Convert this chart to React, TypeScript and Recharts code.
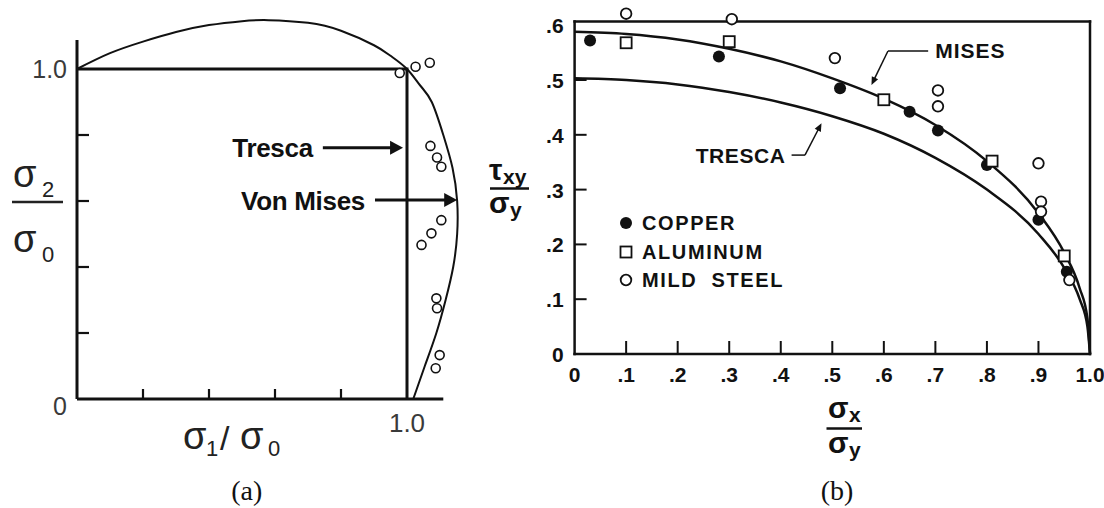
import React from 'react';
import { ComposedChart, Line, Scatter, XAxis, YAxis, ReferenceLine, Legend } from 'recharts';

const INK = '#111';
const SANS = '"Liberation Sans", Arial, Helvetica, sans-serif';
const SERIF = '"Liberation Serif", "Times New Roman", serif';

// ---------- (a) principal stress plane: σ1/σ0 vs σ2/σ0 ----------
const misesEllipseS1 = [0, 0.1, 0.2, 0.3, 0.4, 0.5, 0.58, 0.7, 0.8, 0.9, 0.95, 1.0, 1.04, 1.075, 1.11, 1.138, 1.152, 1.152, 1.14, 1.117, 1.089, 1.054, 1.019];
const misesEllipseS2 = [1.0, 1.048, 1.083, 1.112, 1.133, 1.145, 1.148, 1.14, 1.116, 1.072, 1.04, 1.0, 0.95, 0.9, 0.8, 0.7, 0.6, 0.5, 0.4, 0.3, 0.2, 0.1, 0];
const trescaHexS1 = [0, 1, 1];
const trescaHexS2 = [1, 1, 0];
const biaxialTestS1 = [0.978, 1.026, 1.069, 1.071, 1.091, 1.104, 1.104, 1.074, 1.044, 1.089, 1.091, 1.099, 1.087];
const biaxialTestS2 = [0.988, 1.007, 1.019, 0.767, 0.732, 0.704, 0.542, 0.502, 0.467, 0.305, 0.275, 0.133, 0.093];
const planeTicksX = [0.2, 0.4, 0.6, 0.8, 1.0];
const planeTicksY = [0, 0.2, 0.4, 0.6, 0.8, 1.0];

// ---------- (b) combined tension–torsion: σx/σy vs τxy/σy ----------
const curveSx = [0, 0.1, 0.2, 0.3, 0.4, 0.5, 0.6, 0.7, 0.8, 0.9, 0.95, 0.98, 0.995, 1.0];
const misesTau = [0.588, 0.584, 0.574, 0.557, 0.534, 0.503, 0.466, 0.418, 0.352, 0.257, 0.185, 0.12, 0.065, 0];
const trescaTau = [0.503, 0.5, 0.492, 0.478, 0.459, 0.434, 0.402, 0.358, 0.3, 0.219, 0.157, 0.1, 0.05, 0];
const copperSx = [0.03, 0.28, 0.515, 0.65, 0.705, 0.8, 0.9, 0.955];
const copperTau = [0.572, 0.543, 0.485, 0.442, 0.408, 0.345, 0.245, 0.15];
const aluminumSx = [0.1, 0.3, 0.6, 0.81, 0.95];
const aluminumTau = [0.568, 0.57, 0.464, 0.352, 0.179];
const steelSx = [0.1, 0.305, 0.505, 0.705, 0.705, 0.9, 0.905, 0.905, 0.96];
const steelTau = [0.621, 0.611, 0.54, 0.481, 0.452, 0.348, 0.278, 0.26, 0.135];
const shearTicksX = [0, 0.1, 0.2, 0.3, 0.4, 0.5, 0.6, 0.7, 0.8, 0.9, 1.0];
const shearTicksY = [0, 0.1, 0.2, 0.3, 0.4, 0.5, 0.6];
const materials = ['COPPER', 'ALUMINUM', 'MILD STEEL'];

const pairs = (xs: number[], ys: number[]) => xs.map((x, i) => ({ x, y: ys[i] }));

const ellipseData = pairs(misesEllipseS1, misesEllipseS2);
const hexData = pairs(trescaHexS1, trescaHexS2);
const biaxialData = pairs(biaxialTestS1, biaxialTestS2);
const misesData = pairs(curveSx, misesTau);
const trescaData = pairs(curveSx, trescaTau);
const copperData = pairs(copperSx, copperTau);
const aluminumData = pairs(aluminumSx, aluminumTau);
const steelData = pairs(steelSx, steelTau);

// ---------- shared drawing helpers ----------
function Marker({ kind, cx, cy }: { kind: string; cx: number; cy: number }) {
  if (kind === 'COPPER') return <circle cx={cx} cy={cy} r={6} fill={INK} />;
  if (kind === 'ALUMINUM')
    return <rect x={cx - 5.5} y={cy - 5.5} width={11} height={11} fill="#fff" stroke={INK} strokeWidth={1.8} />;
  return <circle cx={cx} cy={cy} r={5.3} fill="#fff" stroke={INK} strokeWidth={1.8} />;
}

type ArrowSpec = {
  width: number;
  head?: number;
  half?: number;
  text?: string;
  anchor?: 'start' | 'end';
  gap?: number;
  dy?: number;
  fontSize?: number;
  spacing?: number;
};

const arrowShape = (s: ArrowSpec) => (p: any) => {
  const { x1, y1, x2, y2 } = p;
  const head = s.head ?? 0;
  const half = s.half ?? 0;
  const ang = Math.atan2(y2 - y1, x2 - x1);
  const c = Math.cos(ang);
  const sn = Math.sin(ang);
  const bx = x2 - head * c;
  const by = y2 - head * sn;
  const gap = s.gap ?? 0;
  return (
    <g>
      <line
        x1={x1}
        y1={y1}
        x2={head ? bx + c : x2}
        y2={head ? by + sn : y2}
        stroke={INK}
        strokeWidth={s.width}
      />
      {head > 0 && (
        <polygon
          points={`${x2},${y2} ${bx - half * sn},${by + half * c} ${bx + half * sn},${by - half * c}`}
          fill={INK}
        />
      )}
      {s.text && (
        <text
          x={s.anchor === 'start' ? x1 + gap : x1 - gap}
          y={y1 + (s.dy ?? 0)}
          textAnchor={s.anchor ?? 'end'}
          fontFamily={SANS}
          fontWeight={700}
          fontSize={s.fontSize ?? 20}
          letterSpacing={s.spacing ?? 0}
          fill={INK}
          style={{ whiteSpace: 'pre' }}
        >
          {s.text}
        </text>
      )}
    </g>
  );
};

// ---------- (a) axis ticks ----------
const PlaneTickX = (props: any) => {
  const { x, y, payload } = props;
  const v = payload.value;
  if (v >= 0.999)
    return (
      <text x={x} y={y + 33} textAnchor="middle" fontFamily={SANS} fontSize={26} fill="#3a3a3a">
        1.0
      </text>
    );
  return <line x1={x} y1={y} x2={x} y2={y - 10} stroke={INK} strokeWidth={2.2} />;
};

const PlaneTickY = (props: any) => {
  const { x, y, payload } = props;
  const v = payload.value;
  if (v >= 0.999)
    return (
      <text x={x - 10} y={y + 9} textAnchor="end" fontFamily={SANS} fontSize={25} fill="#3a3a3a">
        1.0
      </text>
    );
  if (v === 0)
    return (
      <text x={x - 17} y={y + 16} textAnchor="middle" fontFamily={SANS} fontSize={25} fill="#3a3a3a">
        0
      </text>
    );
  return <line x1={x} y1={y} x2={x + 12} y2={y} stroke={INK} strokeWidth={2.2} />;
};

// ---------- (b) axis ticks ----------
const fmtShear = (v: number) => (v === 0 ? '0' : v >= 0.999 ? '1.0' : '.' + Math.round(v * 10));

const ShearTickX = (props: any) => {
  const { x, y, payload } = props;
  const v = payload.value;
  return (
    <g>
      {v > 0 && v < 0.999 && <line x1={x} y1={y} x2={x} y2={y - 13} stroke={INK} strokeWidth={2} />}
      <text x={x} y={y + 28} textAnchor="middle" fontFamily={SANS} fontWeight={700} fontSize={21} fill={INK}>
        {fmtShear(v)}
      </text>
    </g>
  );
};

const ShearTickY = (props: any) => {
  const { x, y, payload } = props;
  const v = payload.value;
  return (
    <g>
      {v > 0 && v < 0.59 && <line x1={x} y1={y} x2={x + 12} y2={y} stroke={INK} strokeWidth={2} />}
      <text x={x - 11} y={y + 8} textAnchor="end" fontFamily={SANS} fontWeight={700} fontSize={21} fill={INK}>
        {fmtShear(v)}
      </text>
    </g>
  );
};

const MaterialLegend = (props: any) => {
  const payload: any[] = (props.payload || []).filter((e: any) => materials.includes(e.value));
  payload.sort((a, b) => materials.indexOf(a.value) - materials.indexOf(b.value));
  return (
    <div style={{ fontFamily: SANS, fontWeight: 700, fontSize: 20, letterSpacing: 1.6, color: INK }}>
      {payload.map((entry) => (
        <div key={entry.value} style={{ display: 'flex', alignItems: 'center', height: 28.4 }}>
          <svg width={16} height={16} style={{ display: 'block' }}>
            <Marker kind={entry.value} cx={8} cy={8} />
          </svg>
          <span style={{ marginLeft: 8, whiteSpace: 'pre', lineHeight: '28px' }}>
            {entry.value === 'MILD STEEL' ? 'MILD  STEEL' : entry.value}
          </span>
        </div>
      ))}
    </div>
  );
};

function PlanePanel() {
  return (
    <ComposedChart width={480} height={470} margin={{ top: 3, right: 7, bottom: 70, left: 76 }}>
      <XAxis
        type="number"
        dataKey="x"
        domain={[0, 1.2]}
        ticks={planeTicksX}
        interval={0}
        height={1}
        axisLine={false}
        tickLine={false}
        tickSize={0}
        tickMargin={0}
        tick={(p: any) => <PlaneTickX {...p} />}
      />
      <YAxis
        type="number"
        dataKey="y"
        domain={[0, 1.2]}
        ticks={planeTicksY}
        interval={0}
        width={1}
        axisLine={false}
        tickLine={false}
        tickSize={0}
        tickMargin={0}
        tick={(p: any) => <PlaneTickY {...p} />}
      />
      <Line
        data={ellipseData}
        dataKey="y"
        type="natural"
        stroke={INK}
        strokeWidth={2}
        dot={false}
        activeDot={false}
        legendType="none"
        isAnimationActive={false}
      />
      <Line
        data={hexData}
        dataKey="y"
        type="linear"
        stroke={INK}
        strokeWidth={3}
        dot={false}
        activeDot={false}
        legendType="none"
        isAnimationActive={false}
      />
      <ReferenceLine segment={[{ x: 0, y: 0 }, { x: 1.11, y: 0 }]} stroke={INK} strokeWidth={3} />
      <ReferenceLine segment={[{ x: 0, y: 0 }, { x: 0, y: 1.088 }]} stroke={INK} strokeWidth={3} />
      <Scatter
        data={biaxialData}
        legendType="none"
        isAnimationActive={false}
        shape={(p: any) => <circle cx={p.cx} cy={p.cy} r={4.5} fill="#fff" stroke={INK} strokeWidth={1.6} />}
      />
      <ReferenceLine
        segment={[{ x: 0.745, y: 0.761 }, { x: 0.988, y: 0.761 }]}
        shape={arrowShape({ width: 3, head: 13, half: 7, text: 'Tresca', anchor: 'end', gap: 10, dy: 9.5, fontSize: 26, spacing: -0.3 })}
      />
      <ReferenceLine
        segment={[{ x: 0.903, y: 0.603 }, { x: 1.152, y: 0.603 }]}
        shape={arrowShape({ width: 3, head: 13, half: 7, text: 'Von Mises', anchor: 'end', gap: 10, dy: 9.5, fontSize: 26, spacing: -0.3 })}
      />
    </ComposedChart>
  );
}

function ShearPanel() {
  return (
    <ComposedChart width={614} height={508} margin={{ top: 3.3, right: 14, bottom: 153, left: 83.6 }}>
      <XAxis
        type="number"
        dataKey="x"
        domain={[0, 1]}
        ticks={shearTicksX}
        interval={0}
        height={1}
        axisLine={false}
        tickLine={false}
        tickSize={0}
        tickMargin={0}
        tick={(p: any) => <ShearTickX {...p} />}
      />
      <YAxis
        type="number"
        dataKey="y"
        domain={[0, 0.64]}
        ticks={shearTicksY}
        interval={0}
        width={1}
        axisLine={false}
        tickLine={false}
        tickSize={0}
        tickMargin={0}
        tick={(p: any) => <ShearTickY {...p} />}
      />
      <Line
        data={misesData}
        dataKey="y"
        type="monotone"
        stroke={INK}
        strokeWidth={2.5}
        dot={false}
        activeDot={false}
        legendType="none"
        isAnimationActive={false}
      />
      <Line
        data={trescaData}
        dataKey="y"
        type="monotone"
        stroke={INK}
        strokeWidth={2.5}
        dot={false}
        activeDot={false}
        legendType="none"
        isAnimationActive={false}
      />
      <ReferenceLine segment={[{ x: 0, y: 0 }, { x: 1, y: 0 }]} stroke={INK} strokeWidth={2.5} strokeLinecap="square" />
      <ReferenceLine segment={[{ x: 0, y: 0 }, { x: 0, y: 0.607 }]} stroke={INK} strokeWidth={2.5} strokeLinecap="square" />
      <ReferenceLine segment={[{ x: 0, y: 0.607 }, { x: 1, y: 0.607 }]} stroke={INK} strokeWidth={2.5} strokeLinecap="square" />
      <ReferenceLine segment={[{ x: 1, y: 0 }, { x: 1, y: 0.607 }]} stroke={INK} strokeWidth={2.5} strokeLinecap="square" />
      <Scatter
        name="COPPER"
        data={copperData}
        isAnimationActive={false}
        shape={(p: any) => <Marker kind="COPPER" cx={p.cx} cy={p.cy} />}
      />
      <Scatter
        name="ALUMINUM"
        data={aluminumData}
        isAnimationActive={false}
        shape={(p: any) => <Marker kind="ALUMINUM" cx={p.cx} cy={p.cy} />}
      />
      <Scatter
        name="MILD STEEL"
        data={steelData}
        isAnimationActive={false}
        shape={(p: any) => <Marker kind="MILD STEEL" cx={p.cx} cy={p.cy} />}
      />
      <ReferenceLine
        segment={[{ x: 0.686, y: 0.553 }, { x: 0.608, y: 0.553 }]}
        shape={arrowShape({ width: 1.5, text: 'MISES', anchor: 'start', gap: 7, dy: 7.5, fontSize: 21, spacing: 1 })}
      />
      <ReferenceLine
        segment={[{ x: 0.608, y: 0.553 }, { x: 0.576, y: 0.491 }]}
        shape={arrowShape({ width: 1.5, head: 8, half: 3.5 })}
      />
      <ReferenceLine
        segment={[{ x: 0.421, y: 0.363 }, { x: 0.447, y: 0.363 }]}
        shape={arrowShape({ width: 1.5, text: 'TRESCA', anchor: 'end', gap: 6, dy: 7.5, fontSize: 21, spacing: 0.6 })}
      />
      <ReferenceLine
        segment={[{ x: 0.447, y: 0.363 }, { x: 0.479, y: 0.421 }]}
        shape={arrowShape({ width: 1.5, head: 8, half: 3.5 })}
      />
      <Legend
        layout="vertical"
        align="center"
        verticalAlign="middle"
        wrapperStyle={{ left: 128, top: 209, width: 'auto' }}
        content={(p: any) => <MaterialLegend {...p} />}
      />
    </ComposedChart>
  );
}

export default function App() {
  return (
    <div style={{ position: 'absolute', left: 0, top: 0, width: 1104, height: 508, background: '#fff', overflow: 'hidden' }}>
      <div style={{ position: 'absolute', left: 0, top: 0 }}>
        <PlanePanel />
      </div>
      <div style={{ position: 'absolute', left: 490, top: 0 }}>
        <ShearPanel />
      </div>
      <svg width={1104} height={508} style={{ position: 'absolute', left: 0, top: 0, pointerEvents: 'none' }}>
        {/* (a) axis titles */}
        <g fontFamily={SANS} fill="#222">
          <text x={13} y={187} fontSize={38}>σ</text>
          <text x={42} y={197} fontSize={22}>2</text>
          <line x1={12} y1={202} x2={63} y2={202} stroke="#222" strokeWidth={2.5} />
          <text x={13} y={252} fontSize={38}>σ</text>
          <text x={42} y={262} fontSize={22}>0</text>

          <text x={183} y={449} fontSize={38}>σ</text>
          <text x={206} y={456} fontSize={22}>1</text>
          <text x={220} y={450} fontSize={34}>/</text>
          <text x={240} y={449} fontSize={38}>σ</text>
          <text x={268} y={456} fontSize={22}>0</text>
        </g>
        {/* (b) axis titles */}
        <g fontFamily={SANS} fontWeight={700} fill={INK}>
          <text x={489} y={180} fontSize={30}>τ</text>
          <text x={503} y={184} fontSize={21}>xy</text>
          <line x1={490} y1={188.5} x2={529} y2={188.5} stroke={INK} strokeWidth={2.5} />
          <text x={489} y={213} fontSize={30}>σ</text>
          <text x={510} y={217} fontSize={21}>y</text>

          <text x={828} y={418} fontSize={30}>σ</text>
          <text x={849} y={422} fontSize={21}>x</text>
          <line x1={826.5} y1={428.5} x2={862} y2={428.5} stroke={INK} strokeWidth={2.5} />
          <text x={828} y={453} fontSize={30}>σ</text>
          <text x={849} y={457} fontSize={21}>y</text>
        </g>
        {/* panel captions */}
        <text x={246.7} y={500} textAnchor="middle" fontFamily={SERIF} fontSize={28} fill={INK}>(a)</text>
        <text x={837} y={500} textAnchor="middle" fontFamily={SERIF} fontSize={28} fill={INK}>(b)</text>
      </svg>
    </div>
  );
}
